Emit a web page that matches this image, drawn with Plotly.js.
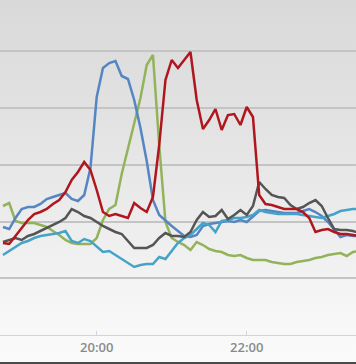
<!DOCTYPE html>
<html>
<head>
<meta charset="utf-8">
<script src="https://cdn.plot.ly/plotly-3.0.1.min.js"></script>
<style>
  html, body { margin: 0; padding: 0; width: 356px; height: 364px; overflow: hidden; background: #fafafa; }
  #chart {
    width: 356px; height: 362px;
    border-bottom: 2px solid #4a4a4a;
    background: linear-gradient(to bottom, #d9d9d9 0%, #e3e3e3 35%, #eeeeee 65%, #f7f7f7 88%, #fafafa 100%);
  }
</style>
</head>
<body>
<div id="chart"></div>
<script>
// Time stamps (5-minute samples)
const times = [
  "18:45","18:50","18:55","19:00","19:05","19:10","19:15","19:20","19:25","19:30","19:35","19:40",
  "19:45","19:50","19:55","20:00","20:05","20:10","20:15","20:20","20:25","20:30","20:35","20:40",
  "20:45","20:50","20:55","21:00","21:05","21:10","21:15","21:20","21:25","21:30","21:35","21:40",
  "21:45","21:50","21:55","22:00","22:05","22:10","22:15","22:20","22:25","22:30","22:35","22:40",
  "22:45","22:50","22:55","23:00","23:05","23:10","23:15","23:20","23:25","23:30"
];

const seriesBlue = [
  108,106,117,126,128,128,131,136,138,140,142,136,
  134,140,167,238,267,272,274,259,256,235,207,174,
  135,120,114,109,104,99,98,100,109,111,112,113,
  114,113,115,113,119,124,125,124,123,122,122,122,
  124,126,123,119,113,105,98,100,99,99
];

const seriesGreen = [
  129,132,114,112,112,112,110,108,104,100,95,92,
  91,91,91,97,115,126,130,161,187,214,237,270,
  280,190,113,97,93,90,85,93,90,86,84,83,
  80,79,80,77,75,75,75,73,72,71,71,73,
  74,75,77,78,80,81,82,79,83,84
];

const seriesRed = [
  92,91,99,107,115,121,123,126,131,135,143,155,
  163,173,165,145,123,119,121,119,117,132,127,123,
  138,190,255,275,267,275,283,235,206,215,226,205,
  220,221,210,228,218,140,131,130,128,126,126,126,
  123,117,103,105,106,103,101,101,100,99
];

const seriesGrey = [
  93,95,97,95,99,101,104,107,110,113,117,126,
  123,119,117,113,109,106,103,101,94,87,87,87,
  90,97,102,99,99,98,103,115,123,118,119,125,
  116,120,125,120,129,153,146,140,138,137,130,126,
  128,132,135,129,117,106,105,105,104,102
];

const seriesLightBlue = [
  80,84,88,92,94,97,99,100,101,102,104,94,
  92,96,94,88,83,84,80,76,72,68,70,71,
  71,78,76,84,92,97,100,106,112,110,103,114,
  115,117,117,118,120,125,123,122,121,121,121,121,
  120,119,118,117,119,121,124,125,126,126
];

const day = "2024-01-01 ";
const x = times.map(t => day + t);

function trace(y, color) {
  return { x: x, y: y, type: "scatter", mode: "lines",
           line: { color: color, width: 2.5, shape: "linear" },
           hoverinfo: "skip", showlegend: false };
}

const data = [
  trace(seriesGreen, "#93b35a"),
  trace(seriesBlue, "#5585c2"),
  trace(seriesLightBlue, "#45a3c8"),
  trace(seriesGrey, "#555555"),
  trace(seriesRed, "#b0161e")
];

const layout = {
  width: 356, height: 362,
  margin: { l: 0, r: 0, t: 0, b: 27, pad: 0 },
  paper_bgcolor: "rgba(0,0,0,0)",
  plot_bgcolor: "rgba(0,0,0,0)",
  showlegend: false,
  xaxis: {
    type: "date",
    range: [day + "18:42:38", day + "23:27:26"],
    tick0: day + "20:00",
    dtick: 2 * 3600 * 1000,
    tickformat: "%H:%M",
    showgrid: false,
    zeroline: false,
    showline: true,
    linecolor: "#c9d6e3",
    linewidth: 1,
    ticks: "inside",
    ticklen: 4,
    tickcolor: "#c9d6e3",
    tickfont: { family: "Open Sans", size: 13, color: "#8a8a8a", weight: 600 },
    fixedrange: true
  },
  yaxis: {
    range: [0, 335],
    dtick: 56.75,
    tick0: 0,
    showticklabels: false,
    showgrid: true,
    gridcolor: "#c4c4c4",
    gridwidth: 2,
    zeroline: false,
    showline: false,
    ticks: "",
    fixedrange: true
  }
};

Plotly.newPlot("chart", data, layout, { staticPlot: true, displayModeBar: false });
</script>
</body>
</html>
